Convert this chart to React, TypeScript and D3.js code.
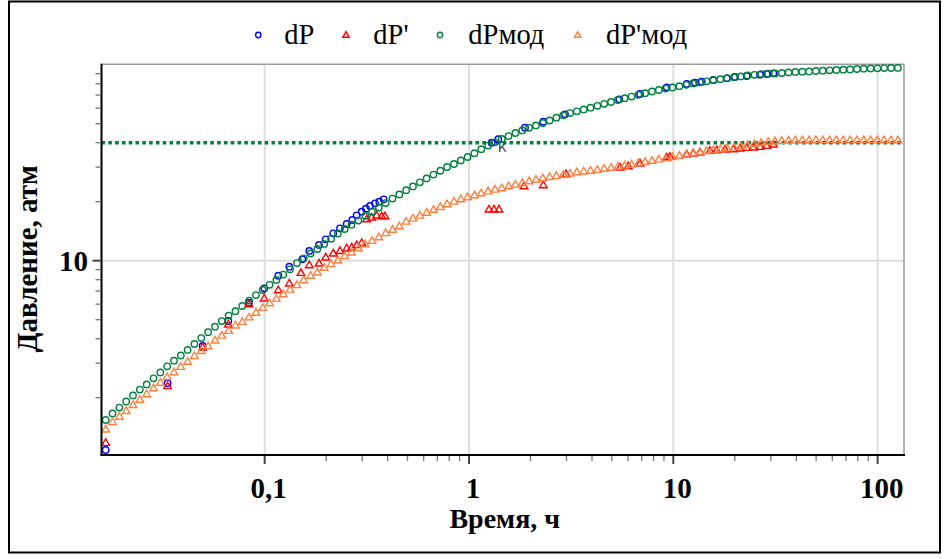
import React from "react";
import * as d3 from "d3";

// Model time grid (h)
const tModel = [0.01667,0.018,0.01944,0.021,0.02268,0.02449,0.02645,0.02857,0.03086,0.03332,
0.03598,0.03886,0.04197,0.04533,0.04896,0.05287,0.0571,0.06167,0.0666,0.07193,
0.07768,0.0839,0.09061,0.09786,0.1057,0.1141,0.1233,0.1331,0.1438,0.1553,
0.1677,0.1811,0.1956,0.2113,0.2282,0.2464,0.2661,0.2874,0.3104,0.3353,
0.3621,0.391,0.4223,0.4561,0.4926,0.532,0.5746,0.6205,0.6702,0.7238,
0.7817,0.8442,0.9118,0.9847,1.0635,1.1486,1.2405,1.3397,1.4469,1.5626,
1.6876,1.8227,1.9685,2.1259,2.296,2.4797,2.6781,2.8923,3.1237,3.3736,
3.6435,3.935,4.2498,4.5898,4.9569,5.3535,5.7817,6.2443,6.7438,7.2833,
7.866,8.4952,9.1749,9.9089,10.702,11.558,12.482,13.481,14.559,15.724,
16.982,18.341,19.808,21.393,23.104,24.952,26.948,29.104,31.433,33.947,
36.663,39.596,42.764,46.185,49.88,53.87,58.18,62.834,67.861,73.29,
79.153,85.485,92.324,99.71,107.69,116.3,125.6];

// dPмод
const dPmod = [1.539,1.661,1.78,1.912,2.055,2.199,2.338,2.512,2.692,2.892,
3.089,3.283,3.507,3.758,4.028,4.317,4.607,4.918,5.248,5.525,
5.873,6.257,6.676,7.088,7.534,7.98,8.5,9.04,9.723,10.28,
10.88,11.47,12.18,12.95,13.76,14.51,15.26,16.02,16.95,17.78,
18.68,19.67,20.74,21.79,22.89,23.94,25.12,26.3,27.5,28.76,
30.07,31.15,32.49,33.82,35.36,37.06,38.66,40.19,41.78,43.22,
44.82,46.21,47.64,49.01,50.35,51.91,53.64,55.17,56.68,57.82,
59.13,60.39,61.69,63.16,64.51,66.04,67.46,68.73,70.2,71.54,
73.0,74.29,75.62,76.6,77.68,78.96,80.28,81.33,82.29,83.35,
84.33,85.33,86.34,87.16,88.09,88.82,89.54,89.97,90.28,90.72,
91.34,91.79,92.11,92.43,92.88,93.2,93.63,93.97,94.3,94.62,
95.08,95.41,95.74,95.85,96.09,96.21,96.3];

// dP'мод
const dPderMod = [1.38,1.505,1.602,1.715,1.84,1.956,2.089,2.241,2.391,2.551,
2.702,2.879,3.06,3.272,3.47,3.667,3.922,4.154,4.394,4.683,
4.884,5.149,5.435,5.757,6.077,6.399,6.763,7.131,7.524,7.971,
8.405,8.727,9.233,9.643,10.05,10.57,11.04,11.6,12.15,12.65,
13.2,13.86,14.41,15.03,15.87,16.44,17.03,17.62,18.23,18.84,
19.45,20.07,20.64,21.11,21.64,22.13,22.63,23.11,23.47,24.02,
24.51,24.97,25.47,25.93,26.39,26.8,27.15,27.5,27.89,28.31,
28.59,28.86,29.13,29.51,29.89,30.24,30.63,31.03,31.51,31.96,
32.41,32.95,33.42,33.89,34.37,34.9,35.44,35.94,36.37,36.75,
37.14,37.58,37.94,38.48,38.97,39.48,40.05,40.52,40.8,41.0,
41.14,41.22,41.29,41.29,41.3,41.3,41.3,41.3,41.3,41.3,
41.3,41.3,41.3,41.3,41.3,41.3,41.3];

// dP (measured)
const tDP = [0.01667,0.03351,0.04972,0.06635,0.08379,0.09954,0.1166,0.132,0.1528,0.1653,
0.1845,0.1989,0.2167,0.2337,0.252,0.2685,0.282,0.2985,0.3132,0.3277,
0.3467,0.3638,0.3824,1.291,1.391,1.88,2.311,2.951,5.441,6.871,
9.284,11.63,12.77,13.77,15.7,18.26,20.04,22.87,26.57,28.66,30.86];
const vDP = [1.082,2.369,3.671,4.923,6.105,7.232,8.385,9.32,10.16,11.21,
12.03,12.86,13.8,14.63,15.39,16.13,17.05,17.78,18.42,19.02,
19.63,20.0,20.57,40.0,41.64,47.7,51.2,55.83,66.6,70.88,
76.68,79.71,80.94,81.9,83.54,85.23,86.54,87.57,88.92,89.65,90.38];

// dP' (measured)
const tDPder = [0.01667,0.03351,0.04972,0.06635,0.08379,0.09954,0.1166,0.132,0.1505,0.1653,
0.1845,0.1989,0.2167,0.2337,0.252,0.2667,0.282,0.2985,0.3157,0.334,
0.3534,0.3738,0.3879,1.253,1.326,1.402,1.859,2.311,2.985,5.484,
6.022,6.871,9.284,9.634,11.63,12.53,13.51,15.12,16.31,17.91,
19.67,21.21,22.87,24.64,26.57,28.66,30.86];
const vDPder = [1.179,2.295,3.615,4.738,6.013,6.43,7.088,7.668,8.686,9.508,
9.699,10.41,10.91,11.24,11.57,11.71,12.03,12.35,16.32,16.65,
17.05,16.91,16.91,18.29,18.29,18.29,24.05,24.33,27.69,29.96,
30.42,31.4,33.7,33.94,34.91,35.32,35.74,36.42,36.72,37.02,
37.14,37.45,37.71,37.89,38.16,38.61,39.26];

const refLevel = 40;
const xMajor = [0.1, 1, 10, 100];
const xLabels = ["0,1", "1", "10", "100"];
const yMajor = [10];
const yLabels = ["10"];
const legendNames = ["dP", "dP'", "dPмод", "dP'мод"];

const BLUE = "#0000ff", RED = "#ff0000", GREEN = "#00803f", ORANGE = "#ff8040";
const TRI = "M0,-3.9L3.8,2.7L-3.8,2.7Z";
const SERIF = "'Liberation Serif','Times New Roman',serif";

export default function App() {
  const L = 101.5, R = 904, T = 64.7, B = 455;
  const x = d3.scaleLog().domain([0.0159, 134.6]).range([L, R]);
  const y = d3.scaleLog().domain([1.02, 100]).range([B, T]);

  const xMinor: number[] = [];
  [0.1, 1, 10].forEach((d) => { for (let m = 2; m <= 9; m++) xMinor.push(d * m); });
  const yMinor: number[] = [];
  [1, 10].forEach((d) => { for (let m = 2; m <= 9; m++) yMinor.push(d * m); });

  const circle = (cx: number, cy: number, c: string, k: string) => (
    <circle key={k} cx={cx} cy={cy} r={3.2} fill="none" stroke={c} strokeWidth={1.4} />
  );
  const tri = (cx: number, cy: number, c: string, k: string) => (
    <path key={k} d={TRI} transform={`translate(${cx},${cy})`} fill="none" stroke={c} strokeWidth={1.4} />
  );

  const legendItems = [
    { mx: 258.3, tx: 284.3, c: BLUE, shape: "c" },
    { mx: 346, tx: 373.3, c: RED, shape: "t" },
    { mx: 440, tx: 468.3, c: GREEN, shape: "c" },
    { mx: 577.7, tx: 606, c: ORANGE, shape: "t" },
  ];

  return (
    <svg width={947} height={559} style={{ position: "absolute", left: 0, top: 0, background: "#fff" }}>
      <rect x={9} y={1.5} width={931} height={551} fill="#fff" stroke="#000" strokeWidth={2} />
      {/* legend */}
      {legendItems.map((it, i) => (
        <g key={"lg" + i}>
          {it.shape === "c"
            ? <circle cx={it.mx} cy={35} r={2.7} fill="none" stroke={it.c} strokeWidth={1.4} />
            : <path d="M0,-3.3L3.2,2.3L-3.2,2.3Z" transform={`translate(${it.mx},${35})`} fill="none" stroke={it.c} strokeWidth={1.4} />}
          <text x={it.tx} y={44} fontFamily={SERIF} fontSize={28.5} fill="#000">{legendNames[i]}</text>
        </g>
      ))}
      {/* grid */}
      {xMajor.map((v, i) => (
        <line key={"gx" + i} x1={x(v)} x2={x(v)} y1={T} y2={B} stroke="#dedede" strokeWidth={2} />
      ))}
      {yMajor.map((v, i) => (
        <line key={"gy" + i} x1={L} x2={R} y1={y(v)} y2={y(v)} stroke="#dedede" strokeWidth={2} />
      ))}
      {/* plot frame top/right */}
      <line x1={L} x2={R} y1={T - 0.5} y2={T - 0.5} stroke="#9a9a9a" strokeWidth={1.5} />
      <line x1={R} x2={R} y1={T - 0.5} y2={B} stroke="#9a9a9a" strokeWidth={1.5} />
      {/* reference dotted line */}
      <line x1={L} x2={R} y1={y(refLevel)} y2={y(refLevel)} stroke={GREEN} strokeWidth={3.6} strokeDasharray="3.6 3.2" />
      {/* measured */}
      {tDP.map((t, i) => circle(x(t), y(vDP[i]), BLUE, "b" + i))}
      {tDPder.map((t, i) => tri(x(t), y(vDPder[i]), RED, "r" + i))}
      {/* model */}
      {tModel.map((t, i) => circle(x(t), y(dPmod[i]), GREEN, "g" + i))}
      {tModel.map((t, i) => tri(x(t), y(dPderMod[i]), ORANGE, "o" + i))}
      <text x={498} y={152} fontFamily="'DejaVu Sans',sans-serif" fontSize={12} fill="#333">К</text>
      {/* axes */}
      <line x1={L} x2={L} y1={T - 1} y2={B + 1} stroke="#000" strokeWidth={2} />
      <line x1={L - 1} x2={R + 1} y1={B} y2={B} stroke="#000" strokeWidth={2} />
      {xMinor.map((v, i) => (
        <line key={"xm" + i} x1={x(v)} x2={x(v)} y1={B + 1} y2={B + 6} stroke="#777" strokeWidth={1.3} />
      ))}
      {xMajor.map((v, i) => (
        <g key={"xM" + i}>
          <line x1={x(v)} x2={x(v)} y1={B + 1} y2={B + 9} stroke="#444" strokeWidth={2} />
          <text x={x(v) + 4} y={498} textAnchor="middle" fontFamily={SERIF} fontWeight="bold" fontSize={29}>{xLabels[i]}</text>
        </g>
      ))}
      {yMinor.map((v, i) => (
        <line key={"ym" + i} x1={L - 6} x2={L - 1} y1={y(v)} y2={y(v)} stroke="#777" strokeWidth={1.3} />
      ))}
      {yMajor.map((v, i) => (
        <g key={"yM" + i}>
          <line x1={L - 9} x2={L - 1} y1={y(v)} y2={y(v)} stroke="#444" strokeWidth={2} />
          <text x={88} y={y(v) + 10} textAnchor="end" fontFamily={SERIF} fontWeight="bold" fontSize={29}>{yLabels[i]}</text>
        </g>
      ))}
      <text x={(L + R) / 2 + 2} y={528} textAnchor="middle" fontFamily={SERIF} fontWeight="bold" fontSize={28}>Время, ч</text>
      <text transform={`translate(37,${(T + B) / 2 - 1}) rotate(-90)`} textAnchor="middle" fontFamily={SERIF} fontWeight="bold" fontSize={29}>Давление, атм</text>
    </svg>
  );
}
